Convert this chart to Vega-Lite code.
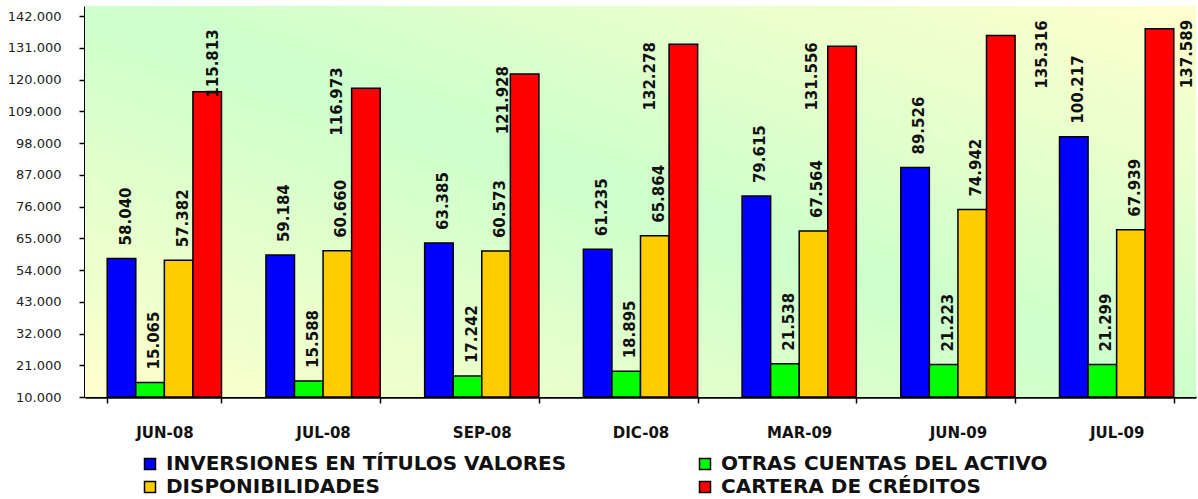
{
  "$schema": "https://vega.github.io/schema/vega-lite/v6.json",
  "width": 1111,
  "height": 391,
  "autosize": "none",
  "padding": {"left": 85, "top": 6, "right": 2, "bottom": 102},
  "background": "white",
  "config": {
    "view": {"stroke": null},
    "locale": {"number": {"decimal": ",", "thousands": ".", "grouping": [3], "currency": ["", ""]}}
  },
  "data": {"values": [
    {"mes": "JUN-08", "serie": "INVERSIONES EN TÍTULOS VALORES", "valor": 58040},
    {"mes": "JUN-08", "serie": "OTRAS CUENTAS DEL ACTIVO", "valor": 15065},
    {"mes": "JUN-08", "serie": "DISPONIBILIDADES", "valor": 57382},
    {"mes": "JUN-08", "serie": "CARTERA DE CRÉDITOS", "valor": 115813},
    {"mes": "JUL-08", "serie": "INVERSIONES EN TÍTULOS VALORES", "valor": 59184},
    {"mes": "JUL-08", "serie": "OTRAS CUENTAS DEL ACTIVO", "valor": 15588},
    {"mes": "JUL-08", "serie": "DISPONIBILIDADES", "valor": 60660},
    {"mes": "JUL-08", "serie": "CARTERA DE CRÉDITOS", "valor": 116973},
    {"mes": "SEP-08", "serie": "INVERSIONES EN TÍTULOS VALORES", "valor": 63385},
    {"mes": "SEP-08", "serie": "OTRAS CUENTAS DEL ACTIVO", "valor": 17242},
    {"mes": "SEP-08", "serie": "DISPONIBILIDADES", "valor": 60573},
    {"mes": "SEP-08", "serie": "CARTERA DE CRÉDITOS", "valor": 121928},
    {"mes": "DIC-08", "serie": "INVERSIONES EN TÍTULOS VALORES", "valor": 61235},
    {"mes": "DIC-08", "serie": "OTRAS CUENTAS DEL ACTIVO", "valor": 18895},
    {"mes": "DIC-08", "serie": "DISPONIBILIDADES", "valor": 65864},
    {"mes": "DIC-08", "serie": "CARTERA DE CRÉDITOS", "valor": 132278},
    {"mes": "MAR-09", "serie": "INVERSIONES EN TÍTULOS VALORES", "valor": 79615},
    {"mes": "MAR-09", "serie": "OTRAS CUENTAS DEL ACTIVO", "valor": 21538},
    {"mes": "MAR-09", "serie": "DISPONIBILIDADES", "valor": 67564},
    {"mes": "MAR-09", "serie": "CARTERA DE CRÉDITOS", "valor": 131556},
    {"mes": "JUN-09", "serie": "INVERSIONES EN TÍTULOS VALORES", "valor": 89526},
    {"mes": "JUN-09", "serie": "OTRAS CUENTAS DEL ACTIVO", "valor": 21223},
    {"mes": "JUN-09", "serie": "DISPONIBILIDADES", "valor": 74942},
    {"mes": "JUN-09", "serie": "CARTERA DE CRÉDITOS", "valor": 135316},
    {"mes": "JUL-09", "serie": "INVERSIONES EN TÍTULOS VALORES", "valor": 100217},
    {"mes": "JUL-09", "serie": "OTRAS CUENTAS DEL ACTIVO", "valor": 21299},
    {"mes": "JUL-09", "serie": "DISPONIBILIDADES", "valor": 67939},
    {"mes": "JUL-09", "serie": "CARTERA DE CRÉDITOS", "valor": 137589}
  ]},
  "encoding": {
    "x": {
      "field": "mes", "type": "nominal",
      "sort": ["JUN-08", "JUL-08", "SEP-08", "DIC-08", "MAR-09", "JUN-09", "JUL-09"],
      "scale": {"paddingInner": 0.28, "paddingOuter": 0.14},
      "axis": {
        "title": null, "labelAngle": 0, "tickBand": "extent",
        "domainColor": "black", "domainWidth": 2.5, "tickColor": "black", "tickWidth": 1.5, "tickSize": 6,
        "labelFont": "DejaVu Sans", "labelFontSize": 15, "labelFontWeight": "bold", "labelColor": "#111",
        "labelPadding": 22
      }
    },
    "xOffset": {
      "field": "serie", "type": "nominal",
      "sort": ["INVERSIONES EN TÍTULOS VALORES", "OTRAS CUENTAS DEL ACTIVO", "DISPONIBILIDADES", "CARTERA DE CRÉDITOS"],
      "scale": {"paddingInner": 0, "paddingOuter": 0}
    },
    "y": {
      "field": "valor", "type": "quantitative",
      "scale": {"domain": [10000, 145500], "zero": false, "nice": false},
      "axis": {
        "title": null, "grid": false,
        "values": [10000, 21000, 32000, 43000, 54000, 65000, 76000, 87000, 98000, 109000, 120000, 131000, 142000],
        "format": ",.0f",
        "domainColor": "black", "domainWidth": 3, "tickColor": "black", "tickWidth": 1.5, "tickSize": 6,
        "labelFont": "DejaVu Sans", "labelFontSize": 13, "labelColor": "#222", "labelPadding": 18
      }
    }
  },
  "layer": [
    {
      "data": {"values": [{}]},
      "mark": {
        "type": "rect",
        "color": {
          "gradient": "linear", "x1": 0, "y1": 1, "x2": 1, "y2": 0,
          "stops": [
            {"offset": 0, "color": "#ffffcc"},
            {"offset": 0.5, "color": "#ccffcc"},
            {"offset": 1, "color": "#ffffcc"}
          ]
        }
      },
      "encoding": {"x": null, "xOffset": null, "y": null}
    },
    {
      "mark": {"type": "bar", "stroke": "black", "strokeWidth": 1.5},
      "encoding": {
        "y2": {"datum": 10000},
        "color": {
          "field": "serie", "type": "nominal",
          "scale": {
            "domain": ["INVERSIONES EN TÍTULOS VALORES", "DISPONIBILIDADES", "OTRAS CUENTAS DEL ACTIVO", "CARTERA DE CRÉDITOS"],
            "range": ["#0000ff", "#ffcc00", "#00ff00", "#ff0000"]
          },
          "legend": {
            "title": null, "orient": "none", "legendX": 55, "legendY": 448,
            "columns": 2, "columnPadding": 128, "rowPadding": 3, "padding": 0,
            "symbolType": "square", "symbolSize": 121, "symbolStrokeColor": "black", "symbolStrokeWidth": 1.5, "symbolOpacity": 1,
            "labelFont": "DejaVu Sans", "labelFontSize": 20, "labelFontWeight": "bold", "labelColor": "#111",
            "labelOffset": 6, "labelLimit": 0
          }
        }
      }
    },
    {
      "transform": [{"filter": "datum.serie != 'CARTERA DE CRÉDITOS'"}],
      "mark": {"type": "text", "angle": 270, "align": "left", "baseline": "middle", "dx": 13, "dy": 4, "font": "DejaVu Sans", "fontSize": 15, "fontWeight": "bold", "color": "#111"},
      "encoding": {"text": {"field": "valor", "type": "quantitative", "format": ",.0f"}}
    },
    {
      "transform": [{"filter": "datum.serie == 'CARTERA DE CRÉDITOS' && datum.mes == 'JUN-08'"}],
      "mark": {"type": "text", "angle": 270, "align": "left", "baseline": "middle", "dx": -6, "dy": 6, "font": "DejaVu Sans", "fontSize": 15, "fontWeight": "bold", "color": "#111"},
      "encoding": {"text": {"field": "valor", "type": "quantitative", "format": ",.0f"}}
    },
    {
      "transform": [{"filter": "datum.serie == 'CARTERA DE CRÉDITOS' && datum.mes == 'JUL-08'"}],
      "mark": {"type": "text", "angle": 270, "align": "right", "baseline": "middle", "dx": 21, "dy": -29, "font": "DejaVu Sans", "fontSize": 15, "fontWeight": "bold", "color": "#111"},
      "encoding": {"text": {"field": "valor", "type": "quantitative", "format": ",.0f"}}
    },
    {
      "transform": [{"filter": "datum.serie == 'CARTERA DE CRÉDITOS' && datum.mes == 'SEP-08'"}],
      "mark": {"type": "text", "angle": 270, "align": "right", "baseline": "middle", "dx": 8, "dy": -22, "font": "DejaVu Sans", "fontSize": 15, "fontWeight": "bold", "color": "#111"},
      "encoding": {"text": {"field": "valor", "type": "quantitative", "format": ",.0f"}}
    },
    {
      "transform": [{"filter": "datum.serie == 'CARTERA DE CRÉDITOS' && datum.mes == 'DIC-08'"}],
      "mark": {"type": "text", "angle": 270, "align": "right", "baseline": "middle", "dx": 2, "dy": -33, "font": "DejaVu Sans", "fontSize": 15, "fontWeight": "bold", "color": "#111"},
      "encoding": {"text": {"field": "valor", "type": "quantitative", "format": ",.0f"}}
    },
    {
      "transform": [{"filter": "datum.serie == 'CARTERA DE CRÉDITOS' && datum.mes == 'MAR-09'"}],
      "mark": {"type": "text", "angle": 270, "align": "right", "baseline": "middle", "dx": 4, "dy": -30, "font": "DejaVu Sans", "fontSize": 15, "fontWeight": "bold", "color": "#111"},
      "encoding": {"text": {"field": "valor", "type": "quantitative", "format": ",.0f"}}
    },
    {
      "transform": [{"filter": "datum.serie == 'CARTERA DE CRÉDITOS' && datum.mes == 'JUN-09'"}],
      "mark": {"type": "text", "angle": 270, "align": "right", "baseline": "middle", "dx": 15, "dy": 41, "font": "DejaVu Sans", "fontSize": 15, "fontWeight": "bold", "color": "#111"},
      "encoding": {"text": {"field": "valor", "type": "quantitative", "format": ",.0f"}}
    },
    {
      "transform": [{"filter": "datum.serie == 'CARTERA DE CRÉDITOS' && datum.mes == 'JUL-09'"}],
      "mark": {"type": "text", "angle": 270, "align": "right", "baseline": "middle", "dx": 9, "dy": 28, "font": "DejaVu Sans", "fontSize": 15, "fontWeight": "bold", "color": "#111"},
      "encoding": {"text": {"field": "valor", "type": "quantitative", "format": ",.0f"}}
    }
  ]
}
